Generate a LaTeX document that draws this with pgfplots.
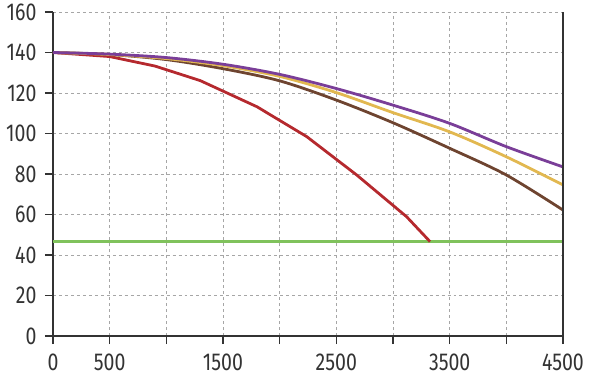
\documentclass[border=0pt]{standalone}
\usepackage{fontspec}
\setmainfont{Fira Sans}[FakeStretch=0.8]
\usepackage{pgfplots}
\pgfplotsset{compat=1.18}
\definecolor{cred}{HTML}{B5292E}
\definecolor{cbrown}{HTML}{6E4430}
\definecolor{cyellow}{HTML}{E2B850}
\definecolor{cpurple}{HTML}{7A3E98}
\definecolor{cgreen}{HTML}{80C25C}
\definecolor{caxis}{HTML}{333333}
\begin{document}
\begin{tikzpicture}[x=1bp,y=1bp]
\begin{axis}[
  scale only axis,
  width=510bp, height=324bp,
  xmin=0, xmax=4500, ymin=0, ymax=160,
  axis lines=left,
  axis line style={-, line width=1.2pt, caxis},
  xtick={0,500,...,4500},
  xticklabels={0,500,,1500,,2500,,3500,,4500},
  ytick={0,20,...,160},
  tick style={line width=1.2pt, caxis},
  tick align=outside,
  major tick length=8bp,
  grid=major,
  major grid style={dashed, gray!70, line width=0.6pt},
  ticklabel style={font=\fontsize{24.5}{27}\selectfont, text=caxis},
  /pgf/number format/assume math mode=true,
  /pgf/number format/set thousands separator={},
  xticklabel style={yshift=-6bp},
  yticklabel style={xshift=-5bp},
  clip=false,
]
\addplot[cgreen, line width=2.8pt] coordinates {(0,46.6) (4500,46.6)};
\addplot[cred, line width=2.8pt] coordinates {
(0,140) (500,138) (900,133.3) (1300,126.1) (1800,113.2) (2240,98.4) (2680,79.5) (3120,58.9) (3327,46.6)};
\addplot[cbrown, line width=2.8pt, smooth] coordinates {
(0,140) (500,139) (1000,136.5) (1500,132) (2000,126) (2500,116.5) (3000,105.3) (3500,92.7) (4000,79.5) (4500,62.2)};
\addplot[cyellow, line width=2.8pt, smooth] coordinates {
(0,140) (500,139) (1000,137) (1500,133.5) (2000,128.2) (2500,120.2) (3000,110.3) (3500,100.8) (4000,88.5) (4500,74.6)};
\addplot[cpurple, line width=2.8pt, smooth] coordinates {
(0,140) (500,139.2) (1000,137.5) (1500,134.2) (2000,129.2) (2500,122.2) (3000,114) (3500,105) (4000,93.5) (4500,83.5)};
\draw[caxis, line width=1.2pt] (rel axis cs:1,0) -- (rel axis cs:1,1);
\end{axis}
\pgfresetboundingbox
\path[use as bounding box] ([xshift=-53bp,yshift=-43bp]current axis.south west) rectangle ([xshift=37bp,yshift=12bp]current axis.north east);
\end{tikzpicture}
\end{document}
